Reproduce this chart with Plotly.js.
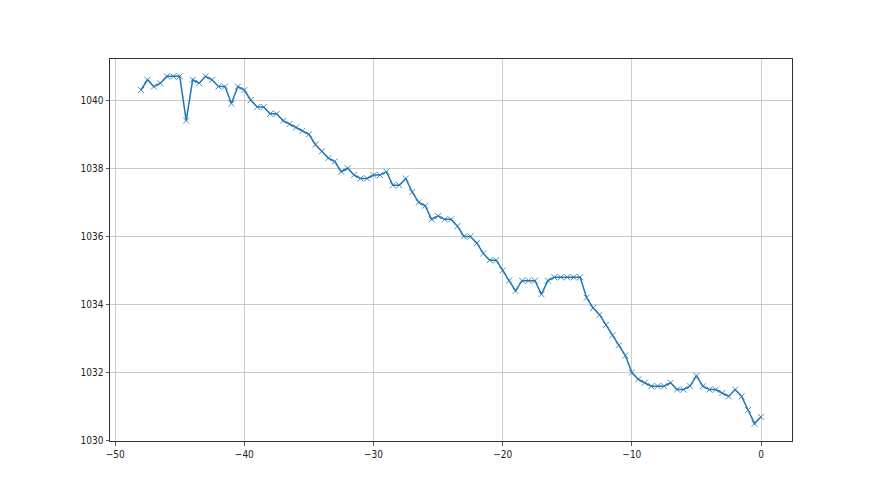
<!DOCTYPE html>
<html>
<head>
<meta charset="utf-8">
<script src="https://cdn.plot.ly/plotly-3.0.1.min.js"></script>
<style>html,body{margin:0;padding:0;background:#fff}#chart{width:880px;height:495px}</style>
</head>
<body>
<div id="chart"></div>
<script>
const xValues = [];
for (let i = 0; i <= 96; i++) xValues.push(-48 + i * 0.5);
const pressure = [
  1040.3, 1040.6, 1040.4, 1040.5, 1040.7, 1040.7, 1040.7, 1039.4, 1040.6, 1040.5,
  1040.7, 1040.6, 1040.4, 1040.4, 1039.9, 1040.4, 1040.3, 1040.0, 1039.8, 1039.8,
  1039.6, 1039.6, 1039.4, 1039.3, 1039.2, 1039.1, 1039.0, 1038.7, 1038.5, 1038.3,
  1038.2, 1037.9, 1038.0, 1037.8, 1037.7, 1037.7, 1037.8, 1037.8, 1037.9, 1037.5,
  1037.5, 1037.7, 1037.3, 1037.0, 1036.9, 1036.5, 1036.6, 1036.5, 1036.5, 1036.3,
  1036.0, 1036.0, 1035.8, 1035.5, 1035.3, 1035.3, 1035.0, 1034.7, 1034.4, 1034.7,
  1034.7, 1034.7, 1034.3, 1034.7, 1034.8, 1034.8, 1034.8, 1034.8, 1034.8, 1034.2,
  1033.9, 1033.7, 1033.4, 1033.1, 1032.8, 1032.5, 1032.0, 1031.8, 1031.7, 1031.6,
  1031.6, 1031.6, 1031.7, 1031.5, 1031.5, 1031.6, 1031.9, 1031.6, 1031.5, 1031.5,
  1031.4, 1031.3, 1031.5, 1031.3, 1030.9, 1030.5, 1030.7
];
const xTicks = [-50, -40, -30, -20, -10, 0];
const xTickLabels = ['\u221250', '\u221240', '\u221230', '\u221220', '\u221210', '0'];
const yTicks = [1030, 1032, 1034, 1036, 1038, 1040];
const yTickLabels = ['1030', '1032', '1034', '1036', '1038', '1040'];

const trace = {
  x: xValues, y: pressure, type: 'scatter', mode: 'lines+markers',
  line: {color: '#1f77b4', width: 1.5},
  marker: {symbol: 'x-thin', size: 6, color: '#1f77b4', opacity: 0.8, line: {color: '#1f77b4', width: 1}},
  hoverinfo: 'skip'
};
const axisCommon = {
  showline: true, mirror: true, linecolor: '#333', linewidth: 1,
  showgrid: true, gridcolor: '#c0c0c0', gridwidth: 0.8,
  zeroline: false, ticks: 'outside', ticklen: 3.5, tickcolor: '#333', tickwidth: 0.8,
  tickfont: {family: '"Liberation Sans Narrow", "DejaVu Sans Condensed", sans-serif', size: 10, color: '#222'}, tickmode: 'array'
};
const layout = {
  width: 880, height: 495,
  margin: {l: 110, r: 88, t: 59, b: 54},
  paper_bgcolor: '#fff', plot_bgcolor: '#fff',
  showlegend: false,
  xaxis: Object.assign({}, axisCommon, {range: [-50.4, 2.4], tickvals: xTicks, ticktext: xTickLabels}),
  yaxis: Object.assign({}, axisCommon, {range: [1029.99, 1041.21], tickvals: yTicks, ticktext: yTickLabels})
};
Plotly.newPlot('chart', [trace], layout, {staticPlot: true, displayModeBar: false});
</script>
</body>
</html>
